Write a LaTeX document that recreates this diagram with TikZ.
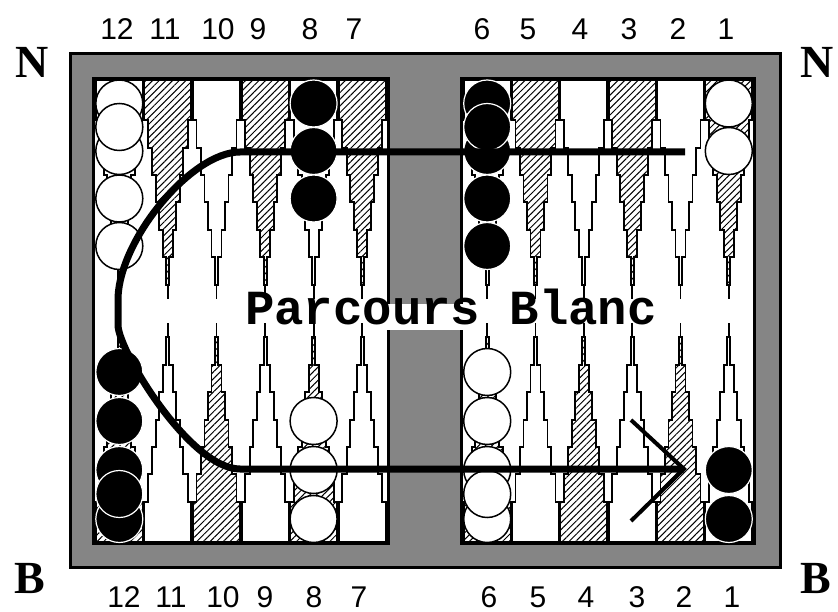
\documentclass[tikz,border=0pt]{standalone}
\usepackage{fontspec}
\setmainfont{Liberation Serif}
\newfontfamily\numfont{Liberation Sans}
\newfontfamily\titlefont{Liberation Mono}
\usetikzlibrary{patterns.meta}

\definecolor{dither}{gray}{0.52}
\tikzset{
  frameline/.style={line width=3pt, draw=black},
  ptline/.style={draw=black, line width=1.9pt},
  plainpt/.style={ptline, fill=white},
  hatchpt/.style={ptline, pattern={Lines[angle=45,distance=4.7pt,line width=1pt]}},
  wchk/.style={fill=white, draw=black, line width=1.5pt},
  bchk/.style={fill=black, draw=white, line width=1.2pt},
  route/.style={line width=7pt, draw=black},
  arrowstroke/.style={line width=4pt, draw=black},
  numlbl/.style={font=\numfont\fontsize{30}{30}\selectfont, inner sep=0pt, text depth=0pt, anchor=base},
  sidelbl/.style={font=\bfseries\fontsize{46}{46}\selectfont, inner sep=0pt, text depth=0pt, anchor=base},
  titlelbl/.style={font=\titlefont\bfseries\fontsize{49}{49}\selectfont, inner sep=0pt, anchor=base},
}

% stepped point hanging from the top edge: #1 = centre x, #2 = style
\newcommand\TopPoint[2]{%
  \begin{scope}[xshift=#1pt]
    \path[#2] (-23.5,80) -- (-23.5,120) -- (-20,120) -- (-20,148) -- (-15.5,148)
      -- (-15.5,175) -- (-12,175) -- (-12,202) -- (-8.5,202) -- (-8.5,230)
      -- (-5,230) -- (-5,257) -- (-1.5,257) -- (-1.5,285) -- (1.5,285)
      -- (1.5,257) -- (5,257) -- (5,230) -- (8.5,230) -- (8.5,202) -- (12,202)
      -- (12,175) -- (15.5,175) -- (15.5,148) -- (20,148) -- (20,120)
      -- (23.5,120) -- (23.5,80) -- cycle;
    \draw[ptline] (0,285) -- (0,299);
  \end{scope}}
% stepped point rising from the bottom edge
\newcommand\BotPoint[2]{%
  \begin{scope}[xshift=#1pt]
    \path[#2] (-23.5,542) -- (-23.5,502) -- (-20,502) -- (-20,474) -- (-15.5,474)
      -- (-15.5,447) -- (-12,447) -- (-12,420) -- (-8.5,420) -- (-8.5,392)
      -- (-5,392) -- (-5,365) -- (-1.5,365) -- (-1.5,337) -- (1.5,337)
      -- (1.5,365) -- (5,365) -- (5,392) -- (8.5,392) -- (8.5,420) -- (12,420)
      -- (12,447) -- (15.5,447) -- (15.5,474) -- (20,474) -- (20,502)
      -- (23.5,502) -- (23.5,542) -- cycle;
    \draw[ptline] (0,337) -- (0,323);
  \end{scope}}

\begin{document}
\begin{tikzpicture}[x=1pt,y=-1pt]
\useasboundingbox (0,0) rectangle (838,612);
\fill[white] (0,0) rectangle (838,612);

% board frame and bar
\fill[dither] (70,54) rectangle (780,567);
\draw[frameline] (70,54) rectangle (780,567);
\filldraw[frameline, fill=white] (93.5,78.5) rectangle (388,543.5);
\filldraw[frameline, fill=white] (461.5,78.5) rectangle (754.5,543.5);

% points, top row
\TopPoint{119.3}{plainpt}
\TopPoint{167.9}{hatchpt}
\TopPoint{216.5}{plainpt}
\TopPoint{265.1}{hatchpt}
\TopPoint{313.6}{plainpt}
\TopPoint{362.2}{hatchpt}
\TopPoint{487.2}{plainpt}
\TopPoint{535.5}{hatchpt}
\TopPoint{583.8}{plainpt}
\TopPoint{632.2}{hatchpt}
\TopPoint{680.5}{plainpt}
\TopPoint{728.8}{hatchpt}
% points, bottom row
\BotPoint{119.3}{hatchpt}
\BotPoint{167.9}{plainpt}
\BotPoint{216.5}{hatchpt}
\BotPoint{265.1}{plainpt}
\BotPoint{313.6}{hatchpt}
\BotPoint{362.2}{plainpt}
\BotPoint{487.2}{hatchpt}
\BotPoint{535.5}{plainpt}
\BotPoint{583.8}{hatchpt}
\BotPoint{632.2}{plainpt}
\BotPoint{680.5}{hatchpt}
\BotPoint{728.8}{plainpt}

% checkers, top row
\foreach \y in {103.5,151,198.5,246,127} \draw[wchk] (119.3,\y) circle[radius=23.5pt];
\foreach \y in {103.5,151,198.5} \draw[bchk] (313.6,\y) circle[radius=23.5pt];
\foreach \y in {103.5,151,198.5,246,127} \draw[bchk] (487.2,\y) circle[radius=23.5pt];
\foreach \y in {103.5,151} \draw[wchk] (728.8,\y) circle[radius=23.5pt];
% checkers, bottom row
\foreach \y in {519,470,421,372,494} \draw[bchk] (119.3,\y) circle[radius=23.5pt];
\foreach \y in {519,470,421} \draw[wchk] (313.6,\y) circle[radius=23.5pt];
\foreach \y in {519,470,421,372,494} \draw[wchk] (487.2,\y) circle[radius=23.5pt];
\foreach \y in {519,470} \draw[bchk] (728.8,\y) circle[radius=23.5pt];

% caption across the board
\fill[white] (387,304) rectangle (463,330);
\node[titlelbl] (title) at (451,325) {Parcours Blanc};

% route of the white checkers
\coordinate (pStart) at (685,152);
\coordinate (pTurnTop) at (240,152);
\coordinate (pLeft) at (118,300);
\coordinate (pLeftLow) at (118,325);
\coordinate (pTurnBot) at (240,469);
\coordinate (aTip) at (684,469);
\coordinate (aUp) at (631,420);
\coordinate (aLow) at (631,521);
\draw[route] (pStart) -- (pTurnTop) .. controls (191,152) and (118,241) .. (pLeft)
  -- (pLeftLow) .. controls (118,350) and (190,469) .. (pTurnBot) -- (aTip);
\draw[arrowstroke] (aUp) -- (aTip) -- (aLow);

% point numbers
\foreach \n/\x in {12/117,11/165,10/218,9/258,8/310,7/354,6/482,5/528,4/580,3/629,2/678,1/726}
  \node[numlbl] (top\n) at (\x,40) {\n};
\foreach \n/\x in {12/124,11/171,10/223,9/265,8/314,7/359,6/489,5/538,4/586,3/637,2/684,1/732}
  \node[numlbl] (bot\n) at (\x,607) {\n};

% side letters
\node[sidelbl] (nLeft) at (32.5,78) {N};
\node[sidelbl, anchor=base west] (nRight) at (800,78) {N};
\node[sidelbl] (bLeft) at (30,593) {B};
\node[sidelbl] (bRight) at (815.5,593) {B};
\end{tikzpicture}
\end{document}
